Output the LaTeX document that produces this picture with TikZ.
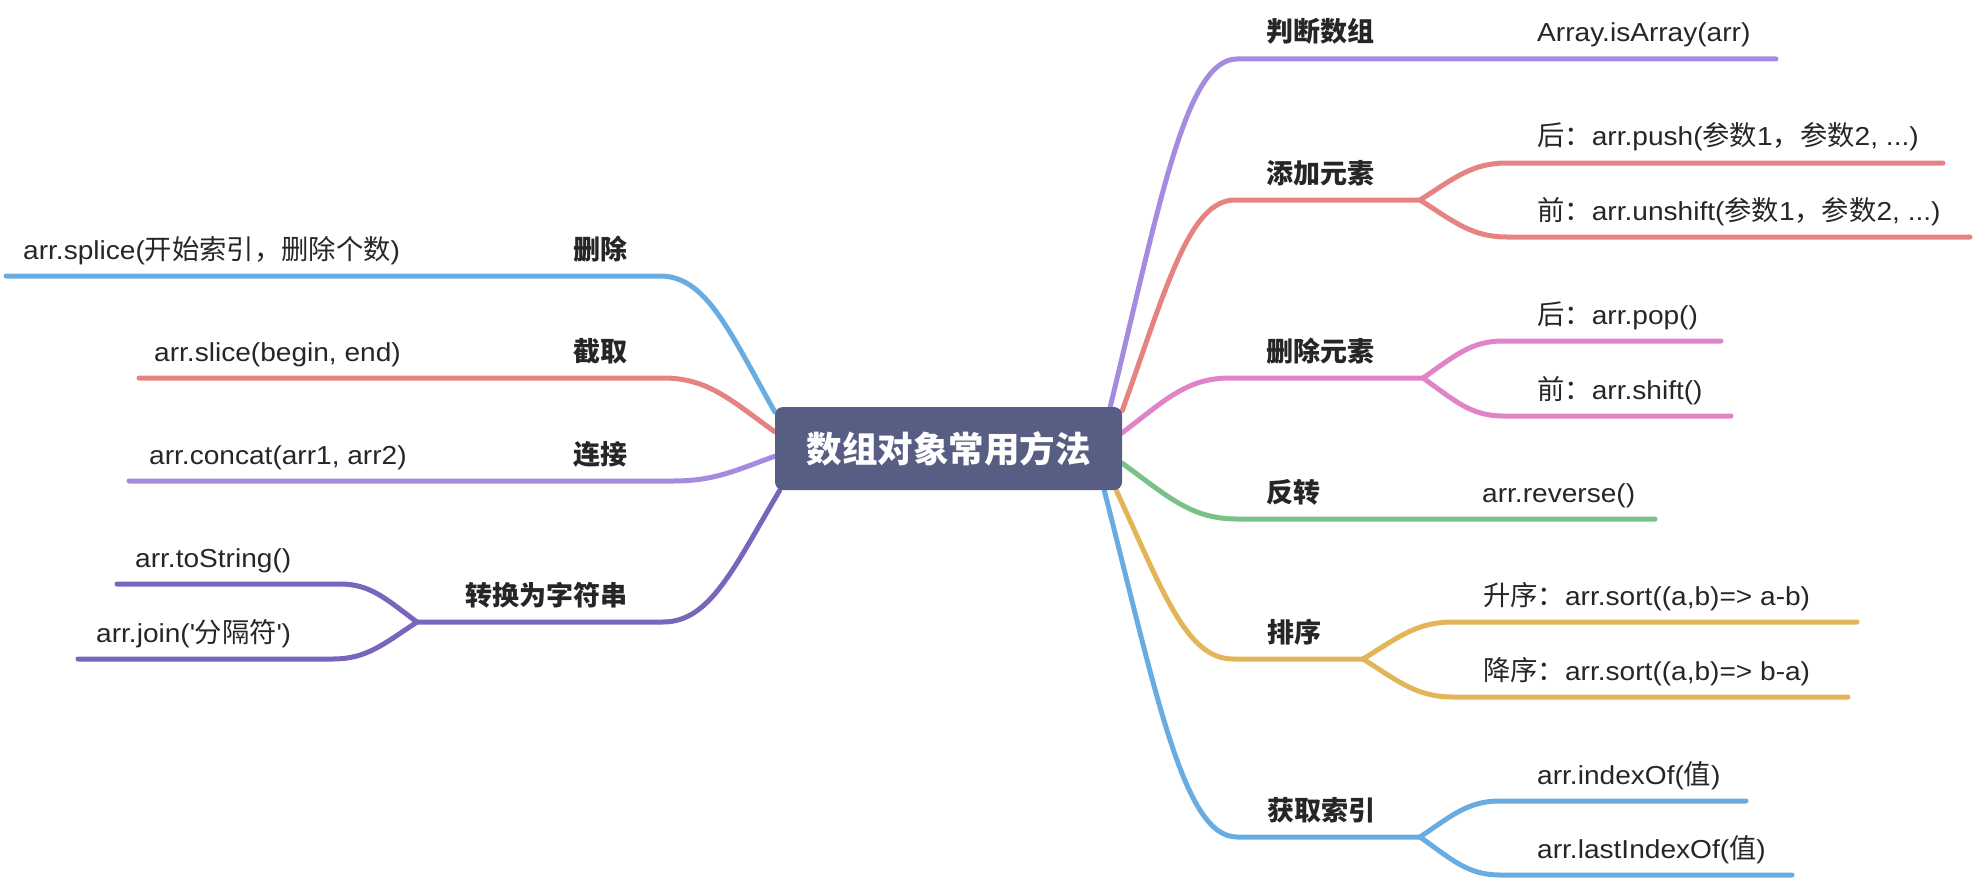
\documentclass[tikz,border=0pt]{standalone}
\usepackage{fontspec}
\setmainfont{Liberation Sans}[FakeStretch=1.08]
\newfontfamily\cjk{Noto Sans CJK SC}
\newfontfamily\cjkleaf{Noto Sans CJK SC}[Scale=1.05]
\newcommand{\zhtext}[1]{{\cjkleaf #1}}
\usetikzlibrary{calc,backgrounds}

\definecolor{rootfill}{RGB}{88,94,131}
\definecolor{txt}{RGB}{38,38,38}
\definecolor{lilac}{RGB}{165,139,224}
\definecolor{salmon}{RGB}{229,131,131}
\definecolor{orchid}{RGB}{224,131,200}
\definecolor{meadow}{RGB}{122,193,136}
\definecolor{mustard}{RGB}{226,182,88}
\definecolor{sky}{RGB}{104,172,225}
\definecolor{grape}{RGB}{122,101,189}

\begin{document}
\begin{tikzpicture}[x=1pt,y=1pt,
    every node/.style={inner sep=0pt, text=txt},
    root/.style={fill=rootfill, rounded corners=8pt, minimum width=347pt, minimum height=83pt,
      text=white, font=\cjk\bfseries\fontsize{35.5}{40}\selectfont},
    topic/.style={font=\cjk\bfseries\fontsize{27}{30}\selectfont},
    leaftext/.style={font=\fontsize{26}{30}\selectfont},
    branch/.style={line width=5pt, line cap=round, draw=#1},
    curvy/.style={to path={let \p1=(\tikztostart), \p2=(\tikztotarget) in
      .. controls ({\x1+0.4*(\x2-\x1)},{\y1+0.6*(\y2-\y1)}) and ({\x2-0.4*(\x2-\x1)},\y2) .. (\tikztotarget)}}]

  \useasboundingbox (0,0) rectangle (1978,-880);

  % centre
  \node[root] (root) at (948.5,-448.5) {数组对象常用方法};

  % right side
  \node[topic, anchor=base west] (judge) at (1266,-42) {判断数组};
  \node[leaftext, anchor=base west] (isarr) at (1537,-42) {Array.isArray(arr)};

  \node[topic, anchor=base west] (add) at (1266,-183) {添加元素};
  \node[leaftext, anchor=base west] (push) at (1537,-146) {\zhtext{后：}arr.push(\zhtext{参数}1\zhtext{，参数}2, ...)};
  \node[leaftext, anchor=base west] (unshift) at (1537,-220) {\zhtext{前：}arr.unshift(\zhtext{参数}1\zhtext{，参数}2, ...)};

  \node[topic, anchor=base west] (del) at (1266,-361) {删除元素};
  \node[leaftext, anchor=base west] (pop) at (1537,-324) {\zhtext{后：}arr.pop()};
  \node[leaftext, anchor=base west] (shift) at (1537,-399) {\zhtext{前：}arr.shift()};

  \node[topic, anchor=base west] (rev) at (1266,-502) {反转};
  \node[leaftext, anchor=base west] (reverse) at (1482,-502) {arr.reverse()};

  \node[topic, anchor=base west] (sort) at (1267,-642) {排序};
  \node[leaftext, anchor=base west] (asc) at (1483,-605) {\zhtext{升序：}arr.sort((a,b)=> a-b)};
  \node[leaftext, anchor=base west] (desc) at (1483,-680) {\zhtext{降序：}arr.sort((a,b)=> b-a)};

  \node[topic, anchor=base west] (idx) at (1267,-820) {获取索引};
  \node[leaftext, anchor=base west] (indexof) at (1537,-784) {arr.indexOf(\zhtext{值})};
  \node[leaftext, anchor=base west] (lastidx) at (1537,-858) {arr.lastIndexOf(\zhtext{值})};

  % left side
  \node[topic, anchor=base east] (remove) at (628,-259) {删除};
  \node[leaftext, anchor=base west] (splice) at (23,-259) {arr.splice(\zhtext{开始索引，删除个数})};

  \node[topic, anchor=base east] (cut) at (628,-361) {截取};
  \node[leaftext, anchor=base west] (slice) at (154,-361) {arr.slice(begin, end)};

  \node[topic, anchor=base east] (join) at (628,-464) {连接};
  \node[leaftext, anchor=base west] (concat) at (149,-464) {arr.concat(arr1, arr2)};

  \node[topic, anchor=base east] (tostr) at (628,-605) {转换为字符串};
  \node[leaftext, anchor=base west] (tostring) at (135,-567) {arr.toString()};
  \node[leaftext, anchor=base west] (joinsep) at (96,-642) {arr.join(\textquotesingle\zhtext{分隔符}\textquotesingle)};

  % branch points
  \coordinate (judge-s) at ([xshift=-12pt]root.north east);
  \coordinate (judge-c) at (1237,-59);
  \coordinate (judge-e) at (1776,-59);

  \coordinate (add-s) at ([yshift=-4pt]root.north east);
  \coordinate (add-c) at (1235,-200);
  \coordinate (add-p) at (1420,-200);
  \coordinate (push-s) at (1507,-163);
  \coordinate (push-e) at (1943,-163);
  \coordinate (unshift-s) at (1507,-237);
  \coordinate (unshift-e) at (1970,-237);

  \coordinate (del-s) at ([yshift=-26pt]root.north east);
  \coordinate (del-c) at (1230,-378);
  \coordinate (del-p) at (1423,-378);
  \coordinate (pop-s) at (1503,-341);
  \coordinate (pop-e) at (1721,-341);
  \coordinate (shift-s) at (1503,-416);
  \coordinate (shift-e) at (1731,-416);

  \coordinate (rev-s) at ([yshift=27pt]root.south east);
  \coordinate (rev-c) at (1237,-519);
  \coordinate (rev-e) at (1655,-519);

  \coordinate (sort-s) at ([xshift=-6pt]root.south east);
  \coordinate (sort-c) at (1233,-659);
  \coordinate (sort-p) at (1363,-659);
  \coordinate (asc-s) at (1453,-622);
  \coordinate (asc-e) at (1857,-622);
  \coordinate (desc-s) at (1453,-697);
  \coordinate (desc-e) at (1848,-697);

  \coordinate (idx-s) at ([xshift=-18pt]root.south east);
  \coordinate (idx-c) at (1237,-837);
  \coordinate (idx-p) at (1420,-837);
  \coordinate (indexof-s) at (1500,-801);
  \coordinate (indexof-e) at (1746,-801);
  \coordinate (lastidx-s) at (1500,-875);
  \coordinate (lastidx-e) at (1792,-875);

  \coordinate (remove-s) at ([yshift=-5pt]root.north west);
  \coordinate (remove-c) at (660,-276);
  \coordinate (remove-e) at (6,-276);

  \coordinate (cut-s) at ([yshift=-25pt]root.north west);
  \coordinate (cut-c) at (663,-378);
  \coordinate (cut-e) at (139,-378);

  \coordinate (join-s) at ([yshift=34pt]root.south west);
  \coordinate (join-c) at (673,-481);
  \coordinate (join-e) at (129,-481);

  \coordinate (tostr-s) at ([xshift=5pt]root.south west);
  \coordinate (tostr-c) at (663,-622);
  \coordinate (tostr-p) at (417,-622);
  \coordinate (tostring-s) at (340,-584);
  \coordinate (tostring-e) at (117,-584);
  \coordinate (joinsep-s) at (333,-659);
  \coordinate (joinsep-e) at (78,-659);

  \begin{scope}[on background layer]
    \draw[branch=lilac] (judge-s) to[curvy] (judge-c) -- (judge-e);

    \draw[branch=salmon] (add-s) to[curvy] (add-c) -- (add-p);
    \draw[branch=salmon] (add-p) to[curvy] (push-s) -- (push-e);
    \draw[branch=salmon] (add-p) to[curvy] (unshift-s) -- (unshift-e);

    \draw[branch=orchid] (del-s) to[curvy] (del-c) -- (del-p);
    \draw[branch=orchid] (del-p) to[curvy] (pop-s) -- (pop-e);
    \draw[branch=orchid] (del-p) to[curvy] (shift-s) -- (shift-e);

    \draw[branch=meadow] (rev-s) to[curvy] (rev-c) -- (rev-e);

    \draw[branch=mustard] (sort-s) to[curvy] (sort-c) -- (sort-p);
    \draw[branch=mustard] (sort-p) to[curvy] (asc-s) -- (asc-e);
    \draw[branch=mustard] (sort-p) to[curvy] (desc-s) -- (desc-e);

    \draw[branch=sky] (idx-s) to[curvy] (idx-c) -- (idx-p);
    \draw[branch=sky] (idx-p) to[curvy] (indexof-s) -- (indexof-e);
    \draw[branch=sky] (idx-p) to[curvy] (lastidx-s) -- (lastidx-e);

    \draw[branch=sky] (remove-s) to[curvy] (remove-c) -- (remove-e);
    \draw[branch=salmon] (cut-s) to[curvy] (cut-c) -- (cut-e);
    \draw[branch=lilac] (join-s) to[curvy] (join-c) -- (join-e);

    \draw[branch=grape] (tostr-s) to[curvy] (tostr-c) -- (tostr-p);
    \draw[branch=grape] (tostr-p) to[curvy] (tostring-s) -- (tostring-e);
    \draw[branch=grape] (tostr-p) to[curvy] (joinsep-s) -- (joinsep-e);
  \end{scope}
\end{tikzpicture}
\end{document}
